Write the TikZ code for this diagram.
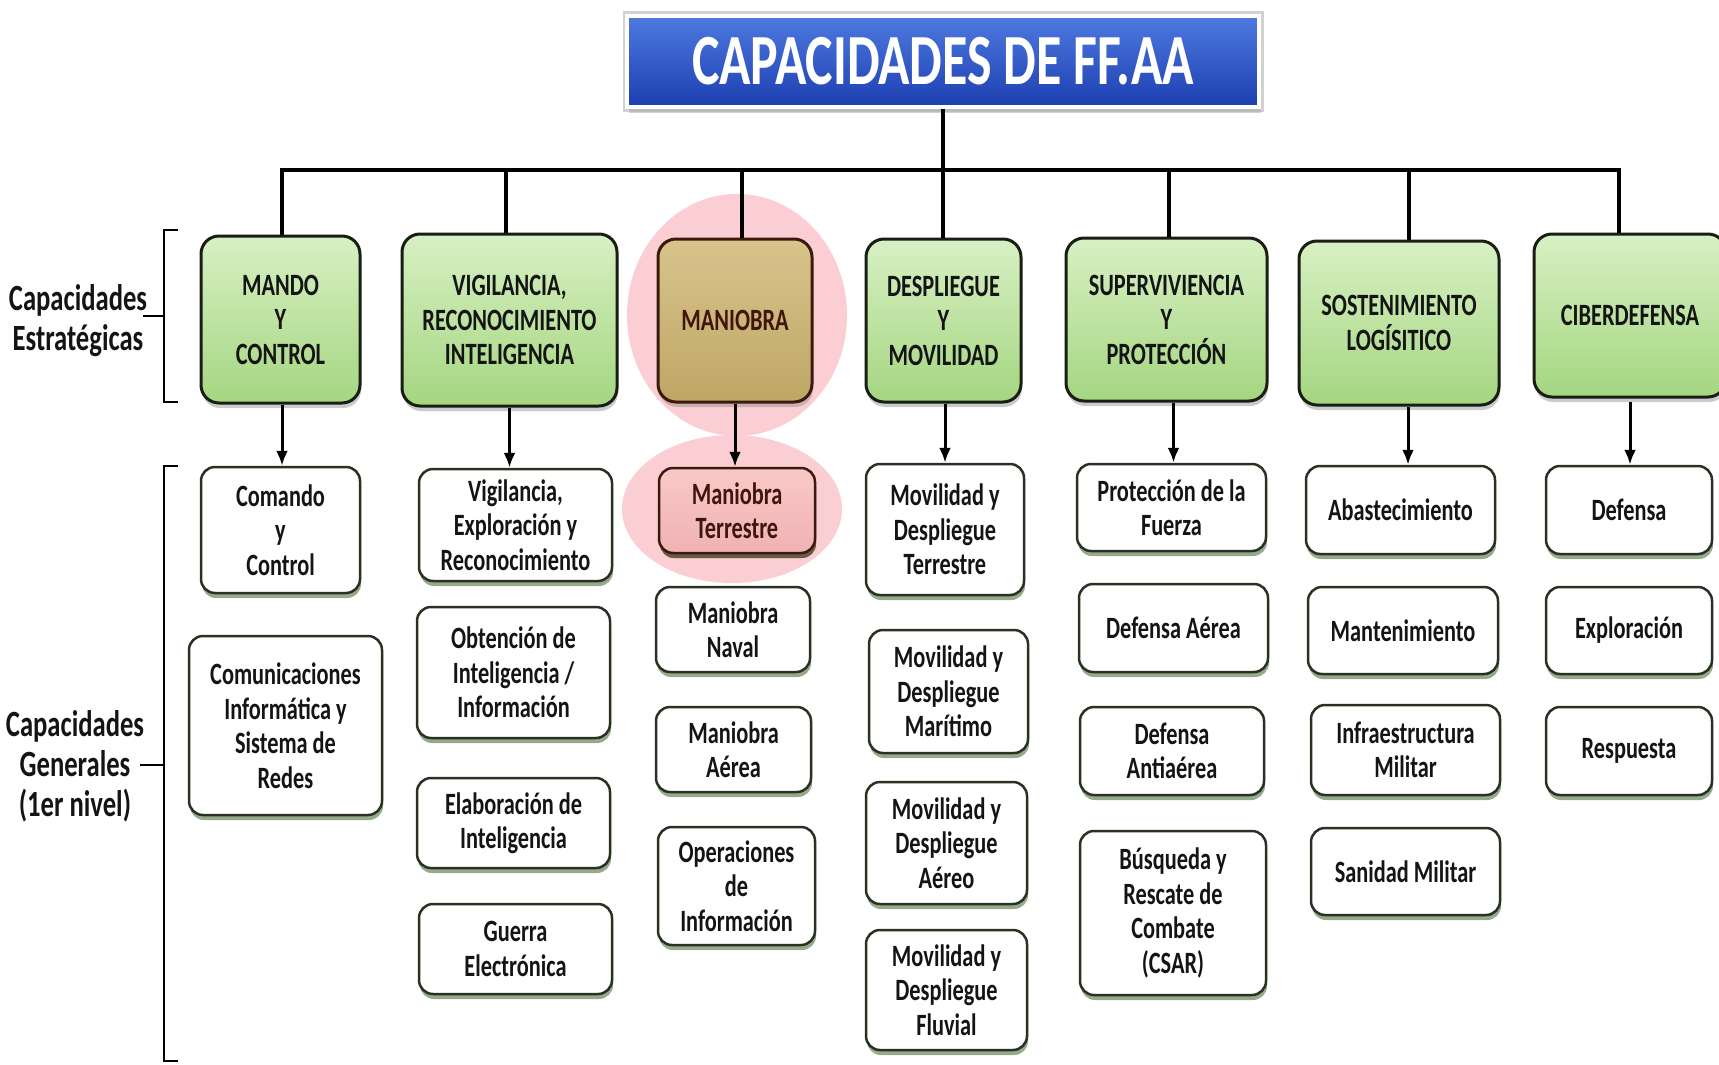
\documentclass[tikz,border=0pt]{standalone}
\usepackage{fontspec}
\newfontfamily\cfont{Carlito}[FakeStretch=0.72]
\usetikzlibrary{shadows,arrows.meta}
\definecolor{greenTop}{RGB}{216,240,196}
\definecolor{greenBot}{RGB}{164,214,128}
\definecolor{stratBorder}{RGB}{25,30,20}
\definecolor{genBorder}{RGB}{40,50,35}
\definecolor{genShadow}{RGB}{105,135,90}
\definecolor{pinkHalo}{RGB}{250,206,210}
\definecolor{tanTop}{RGB}{216,196,140}
\definecolor{tanBot}{RGB}{190,166,102}
\definecolor{brownText}{RGB}{62,22,12}
\definecolor{brownBorder}{RGB}{60,25,12}
\definecolor{pinkTop}{RGB}{250,200,200}
\definecolor{pinkBot}{RGB}{240,178,180}
\definecolor{blueTop}{RGB}{78,122,224}
\definecolor{blueBot}{RGB}{28,62,176}
\tikzset{
  strat/.style={rounded corners=18pt, draw=stratBorder, line width=3pt,
    top color=greenTop, bottom color=greenBot, align=center, inner sep=3pt,
    font=\cfont\bfseries\fontsize{31}{34.5}\selectfont, text=black!92,
    drop shadow={shadow xshift=1pt, shadow yshift=-5pt, fill=black!45, opacity=0.45}},
  gen/.style={rounded corners=14pt, draw=genBorder, line width=2.5pt, fill=white,
    align=center, inner sep=3pt, text=black!92,
    font=\cfont\bfseries\fontsize{31}{34.5}\selectfont,
    drop shadow={shadow xshift=1pt, shadow yshift=-5pt, fill=genShadow, opacity=0.7}},
  halo/.style={fill=pinkHalo, draw=none},
  busline/.style={line width=4pt, black},
  vline/.style={line width=3.5pt, black},
  arr/.style={line width=3pt, black, -{Latex[length=15pt,width=12pt]}},
  bracket/.style={line width=2.5pt, black},
  lab/.style={align=center, font=\cfont\bfseries\fontsize{37}{40}\selectfont, text=black!92, inner sep=0pt}
}
\begin{document}
\begin{tikzpicture}[x=1pt,y=-1pt]
\useasboundingbox (0,0) rectangle (1719,1065);
\clip (0,0) rectangle (1719,1065);
\fill[white] (0,0) rectangle (1719,1065);

% pink halos
\fill[halo] (737,315) ellipse [x radius=110, y radius=121];
\fill[halo] (732,509) ellipse [x radius=110, y radius=74];

% title
\node[draw=white, line width=4pt, top color=blueTop, bottom color=blueBot,
  preaction={draw=black!18, line width=9pt},
  minimum width=632pt, minimum height=91pt, inner sep=0pt,
  drop shadow={shadow xshift=2pt, shadow yshift=-6pt, fill=black!35, opacity=0.5},
  font=\cfont\bfseries\fontsize{72}{80}\selectfont, text=white]
  (title) at (943,61.5) {CAPACIDADES DE FF.AA};

% strategic capacities
\node[strat, minimum width=159pt, minimum height=167pt] (s1) at (280.5,319.5) {MANDO\\Y\\CONTROL};
\node[strat, minimum width=215pt, minimum height=172pt] (s2) at (509.5,320) {VIGILANCIA,\\RECONOCIMIENTO\\INTELIGENCIA};
\node[strat, minimum width=154pt, minimum height=163pt, draw=brownBorder, top color=tanTop, bottom color=tanBot, text=brownText] (s3) at (735,320.5) {MANIOBRA};
\node[strat, minimum width=155pt, minimum height=163pt] (s4) at (943.5,320.5) {DESPLIEGUE\\Y\\MOVILIDAD};
\node[strat, minimum width=201pt, minimum height=163pt] (s5) at (1166.5,319.5) {SUPERVIVIENCIA\\Y\\PROTECCIÓN};
\node[strat, minimum width=200pt, minimum height=164pt] (s6) at (1399,323) {SOSTENIMIENTO\\LOGÍSITICO};
\node[strat, minimum width=192pt, minimum height=163pt] (s7) at (1630,315.5) {CIBERDEFENSA};

% bus
\coordinate (busL) at (282,170);
\coordinate (busR) at (1619,170);
\draw[busline] ([xshift=-2pt]busL) -- ([xshift=2pt]busR);
\draw[vline] (title.south) -- (title.south |- s4.north);
\draw[vline] ([xshift=1.5pt]s1.north) -- ([xshift=1.5pt]s1.north |- busL);
\draw[vline] ([xshift=-3.5pt]s2.north) -- ([xshift=-3.5pt]s2.north |- busL);
\draw[vline] ([xshift=7pt]s3.north) -- ([xshift=7pt]s3.north |- busL);
\draw[vline] ([xshift=2.5pt]s5.north) -- ([xshift=2.5pt]s5.north |- busL);
\draw[vline] ([xshift=10pt]s6.north) -- ([xshift=10pt]s6.north |- busL);
\draw[vline] ([xshift=-11pt]s7.north) -- ([xshift=-11pt]s7.north |- busR);

% general capacities
\node[gen, minimum width=159pt, minimum height=126pt] (g11) at (280.5,530) {Comando\\y\\Control};
\node[gen, minimum width=193pt, minimum height=179pt] (g12) at (285.5,725.5) {Comunicaciones\\Informática y\\Sistema de\\Redes};

\node[gen, minimum width=193pt, minimum height=112pt] (g21) at (515.5,525) {Vigilancia,\\Exploración y\\Reconocimiento};
\node[gen, minimum width=193pt, minimum height=131pt] (g22) at (513.5,672.5) {Obtención de\\Inteligencia /\\Información};
\node[gen, minimum width=193pt, minimum height=90pt] (g23) at (513.5,823) {Elaboración de\\Inteligencia};
\node[gen, minimum width=193pt, minimum height=90pt] (g24) at (515.5,949) {Guerra\\Electrónica};

\node[gen, minimum width=156pt, minimum height=85pt, draw=brownBorder, top color=pinkTop, bottom color=pinkBot, text=brownText,
  drop shadow={shadow xshift=1pt, shadow yshift=-5pt, fill=brownBorder, opacity=0.5}] (g31) at (737,510.5) {Maniobra\\Terrestre};
\node[gen, minimum width=154pt, minimum height=85pt] (g32) at (733,629.5) {Maniobra\\Naval};
\node[gen, minimum width=155pt, minimum height=85pt] (g33) at (733.5,749.5) {Maniobra\\Aérea};
\node[gen, minimum width=157pt, minimum height=118pt] (g34) at (736.5,886) {Operaciones\\de\\Información};

\node[gen, minimum width=158pt, minimum height=131pt] (g41) at (945,529.5) {Movilidad y\\Despliegue\\Terrestre};
\node[gen, minimum width=159pt, minimum height=123pt] (g42) at (948.5,691.5) {Movilidad y\\Despliegue\\Marítimo};
\node[gen, minimum width=161pt, minimum height=122pt] (g43) at (946.5,843) {Movilidad y\\Despliegue\\Aéreo};
\node[gen, minimum width=161pt, minimum height=120pt] (g44) at (946.5,990) {Movilidad y\\Despliegue\\Fluvial};

\node[gen, minimum width=189pt, minimum height=87pt] (g51) at (1171.5,507.5) {Protección de la\\Fuerza};
\node[gen, minimum width=189pt, minimum height=88pt] (g52) at (1173.5,628) {Defensa Aérea};
\node[gen, minimum width=184pt, minimum height=88pt] (g53) at (1172,751) {Defensa\\Antiaérea};
\node[gen, minimum width=186pt, minimum height=164pt] (g54) at (1173,913) {Búsqueda y\\Rescate de\\Combate\\(CSAR)};

\node[gen, minimum width=189pt, minimum height=88pt] (g61) at (1400.5,510) {Abastecimiento};
\node[gen, minimum width=190pt, minimum height=87pt] (g62) at (1403,630.5) {Mantenimiento};
\node[gen, minimum width=189pt, minimum height=90pt] (g63) at (1405.5,750) {Infraestructura\\Militar};
\node[gen, minimum width=189pt, minimum height=87pt] (g64) at (1405.5,871.5) {Sanidad Militar};

\node[gen, minimum width=166pt, minimum height=88pt] (g71) at (1629,510) {Defensa};
\node[gen, minimum width=166pt, minimum height=87pt] (g72) at (1629,630.5) {Exploración};
\node[gen, minimum width=166pt, minimum height=88pt] (g73) at (1629,751) {Respuesta};

% arrows
\draw[arr] ([xshift=1.5pt]s1.south) -- ([xshift=1.5pt]s1.south |- g11.north);
\draw[arr] (s2.south) -- (s2.south |- g21.north);
\draw[arr] (s3.south) -- (s3.south |- g31.north);
\draw[arr] ([xshift=1.5pt]s4.south) -- ([xshift=1.5pt]s4.south |- g41.north);
\draw[arr] ([xshift=7pt]s5.south) -- ([xshift=7pt]s5.south |- g51.north);
\draw[arr] ([xshift=9pt]s6.south) -- ([xshift=9pt]s6.south |- g61.north);
\draw[arr] ([yshift=-3pt]s7.south) -- (s7.south |- g71.north);

% left labels and brackets
\node[lab] (lab1) at (78,321) {Capacidades\\Estratégicas};
\node[lab] (lab2) at (75,766) {Capacidades\\Generales\\(1er nivel)};
\draw[bracket] (178,230) -- (164,230) -- (164,402) -- (178,402);
\coordinate (b1) at (164,316);
\draw[bracket] (b1) -- (143,316);
\draw[bracket] (178,466) -- (164,466) -- (164,1061) -- (178,1061);
\coordinate (b2) at (164,765);
\draw[bracket] (b2) -- (140,765);
\end{tikzpicture}
\end{document}
